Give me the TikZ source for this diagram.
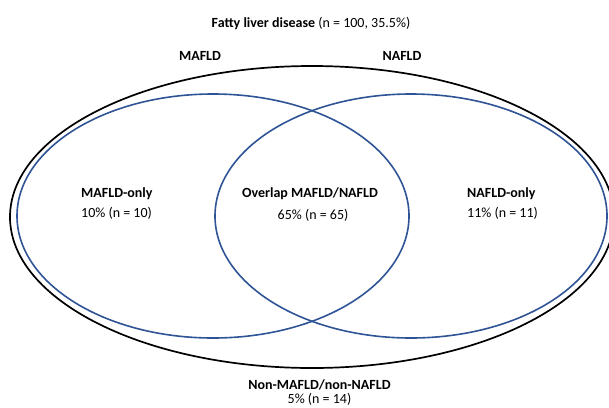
\documentclass[tikz,border=0pt]{standalone}
\usepackage{fontspec}
\setmainfont{Carlito}
\definecolor{vennblue}{RGB}{47,84,150}
\begin{document}
\begin{tikzpicture}[x=1pt,y=-1pt,
  lbl/.style={inner sep=0pt, font=\fontsize{14}{16}\selectfont, anchor=base},
  lbll/.style={lbl, anchor=base west},
  outerring/.style={draw=black, line width=1.7pt},
  setring/.style={draw=vennblue, line width=1.6pt}]
\useasboundingbox (0,0) rectangle (609,407);
\begin{scope}
\clip (0,0) rectangle (609,407);
\path[outerring] (312,217) ellipse [x radius=302, y radius=151];
\path[setring] (213,216) ellipse [x radius=196, y radius=122];
\path[setring] (411,216) ellipse [x radius=196, y radius=122];
\end{scope}
\node[lbl] (title) at (311,27) {\textbf{Fatty liver disease} (n = 100, 35.5\%)};
\node[lbl] (mafld) at (200,60.5) {\textbf{MAFLD}};
\node[lbl] (nafld) at (402,60.5) {\textbf{NAFLD}};
\node[lbll] (monly) at (81,197) {\textbf{MAFLD-only}};
\node[lbll] (monlyn) at (81,217.5) {10\% (n = 10)};
\node[lbl] (overlap) at (310,197) {\textbf{Overlap MAFLD/NAFLD}};
\node[lbl] (overlapn) at (313,219.5) {65\% (n = 65)};
\node[lbll] (nonly) at (467,197) {\textbf{NAFLD-only}};
\node[lbll] (nonlyn) at (467,217.5) {11\% (n = 11)};
\node[lbl] (none) at (319.5,389.5) {\textbf{Non-MAFLD/non-NAFLD}};
\node[lbl] (nonen) at (319.5,403) {5\% (n = 14)};
\end{tikzpicture}
\end{document}
